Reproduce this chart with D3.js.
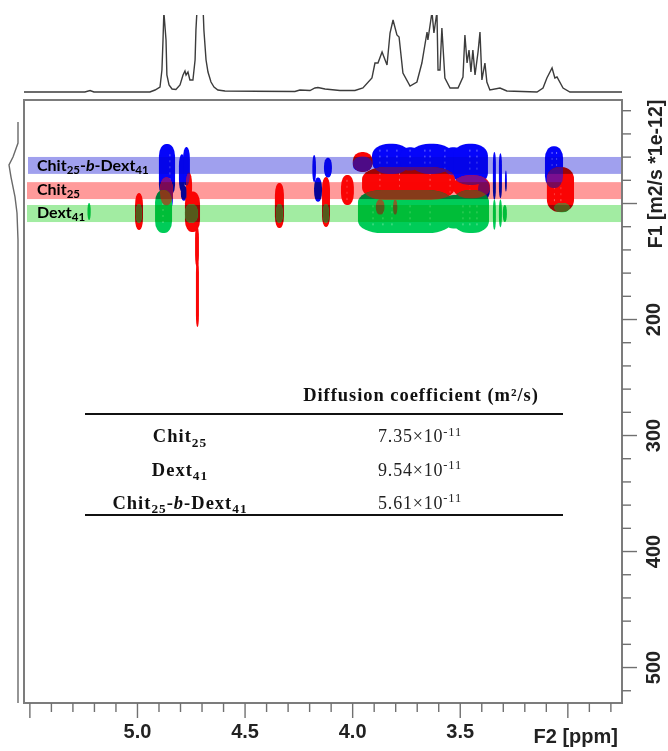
<!DOCTYPE html>
<html><head><meta charset="utf-8">
<script src="https://cdnjs.cloudflare.com/ajax/libs/d3/7.8.5/d3.min.js"></script>
<style>html,body{margin:0;padding:0;background:#fff}svg{display:block;filter:blur(0.35px)}</style>
</head><body><div id="chart"></div>
<script>
// 1D projection on F2 (top)
const topPpm=[5.525,5.242,5.218,5.200,4.940,4.916,4.893,4.884,4.879,4.875,4.865,4.861,4.851,4.837,4.819,4.800,4.786,4.777,4.772,4.763,4.754,4.740,4.730,4.726,4.721,4.717,4.693,4.689,4.679,4.670,4.656,4.642,4.624,4.591,4.266,4.243,4.196,4.173,4.159,4.126,4.080,4.057,3.987,3.950,3.908,3.894,3.880,3.861,3.838,3.824,3.810,3.792,3.782,3.764,3.731,3.699,3.676,3.652,3.648,3.629,3.620,3.606,3.601,3.592,3.583,3.569,3.545,3.508,3.485,3.476,3.466,3.457,3.448,3.439,3.429,3.415,3.406,3.397,3.383,3.374,3.360,3.313,3.281,3.141,3.113,3.095,3.071,3.058,3.048,3.020,2.988,2.746];
const topInt=[0,0,1.5,0,0,2,5,22,52,80,52,17,7,3,2.5,7,17,21,17,20,12,12,32,62,82,85,85,62,32,20,10,5,2,1,.5,2,1.5,4,4.5,3,2,1.5,1.5,4,14,29,29,40,27,59,72,57,55,19,6,10,29,60,52,80,59,80,22,22,64,14,4,4,15,57,29,42,20,42,17,40,60,12,29,10,2,4,1,0,4,14,24,14,15,4,0,0];
// 1D projection on F1 (left)
const leftF1=[30.2,48.3,60.3,67.2,77.6,94.8,108.6,131.9,531];
const leftInt=[0,0,5,9,7,3,1,0,0];
// Contour blobs: [ppm left, ppm right, F1 top, F1 bottom]
const blueBlobs=[[4.898,4.823,49.1,94.8],[4.851,4.833,85,104],[4.805,4.777,58,90],[4.786,4.754,51.7,85],[4.796,4.768,85,98],[4.185,4.168,58.6,82],[4.177,4.14,78,99],[4.131,4.094,61,78],[3.997,3.908,60,73],[3.908,3.731,49,75],[3.78,3.68,52,72],[3.731,3.531,49,75],[3.58,3.48,52,76],[3.531,3.369,49,84.5],[3.415,3.36,80,97],[3.346,3.332,56,97],[3.318,3.304,57,96],[3.29,3.281,72,90],[3.104,3.02,51,87]];
const redBlobs=[[5.009,4.972,91.4,123.3],[4.893,4.833,78,102],[4.772,4.744,74,98],[4.777,4.707,90,125],[4.730,4.712,120,155],[4.726,4.712,150,206.9],[4.359,4.317,82.8,121.6],[4.14,4.103,77.6,120.7],[4.052,3.992,75.9,101.7],[3.997,3.905,56,73],[3.954,3.522,69,97.4],[3.531,3.36,76,96],[3.89,3.85,97,110],[3.81,3.79,97,110],[3.095,2.969,69,107.8]];
const greenBlobs=[[5.23,5.215,100,114.7],[4.916,4.837,88.8,125.9],[5.005,4.977,100.9,117.2],[4.777,4.717,100.9,117.2],[4.354,4.322,100.9,117.2],[4.136,4.108,100.9,117.2],[3.973,3.536,88.8,125.9],[3.58,3.47,93,122],[3.531,3.364,88.8,125.9],[3.346,3.332,97,123],[3.318,3.304,97,121],[3.3,3.281,101.7,116.4],[3.06,2.99,100,108]];
// Light gaps inside contours: [ppm, F1 top, F1 bottom]
const blueGaps=[[4.847,58,85],[3.871,54,72],[3.838,54,72],[3.792,54,72],[3.731,54,72],[3.662,54,72],[3.638,54,72],[3.569,54,72],[3.453,54,72],[3.42,54,72],[3.071,56,78],[3.05,56,78]];
const redGaps=[[4.024,80,98],[3.871,74,92],[3.78,74,92],[3.638,74,92],[3.545,74,92],[3.453,78,92],[3.06,76,100],[3.03,76,100]];
const greenGaps=[[4.879,100,120],[3.903,102,120],[3.857,102,120],[3.815,102,120],[3.731,102,120],[3.638,102,120],[3.485,102,120],[3.453,102,120],[3.42,102,120]];
// Bands behind the species
const bandNames=[["Chit","25","-","b","-Dext","41"],["Chit","25"],["Dext","41"]];
const bandF1=[[60.3,74.9],[82,96.6],[101.7,116.4]];
const bandColors=["#a0a0ee","#ff9a9a","#a2eca2"];
// Axes
const xMajor=[5.5,5.0,4.5,4.0,3.5,3.0];
const xLabels=[5.0,4.5,4.0,3.5];
const xMinor=[5.4,5.3,5.2,5.1,4.9,4.8,4.7,4.6,4.4,4.3,4.2,4.1,3.9,3.8,3.7,3.6,3.4,3.3,3.2,3.1,2.9,2.8];
const yMajor=[100,200,300,400,500];
const yLabels=[200,300,400,500];
const yMinor=[20,40,60,80,120,140,160,180,220,240,260,280,320,340,360,380,420,440,460,480,520];
// Table
const tableHeader="Diffusion coefficient (m²/s)";
const tableRows=[[["Chit","25"],"7.35×10","-11"],[["Dext","41"],"9.54×10","-11"],[["Chit","25","-","b","-Dext","41"],"5.61×10","-11"]];

const W=668,H=751,L=24,R=622,T=100,B=703;
const x=d3.scaleLinear().domain([5.525,2.746]).range([L,R]);
const y=d3.scaleLinear().domain([11.2,531]).range([T,B]);
const yTop=d3.scaleLinear().domain([0,77]).range([92,15]);
const xLeft=d3.scaleLinear().domain([0,9]).range([18,9]);
const svg=d3.select("#chart").append("svg").attr("width",W).attr("height",H);
const defs=svg.append("defs");
defs.append("clipPath").attr("id","topClip").append("rect").attr("x",0).attr("y",15).attr("width",W).attr("height",90);

function blobs(g,data,fill){
  g.selectAll("rect").data(data).join("rect")
   .attr("x",d=>x(d[0])).attr("y",d=>y(d[2]))
   .attr("width",d=>x(d[1])-x(d[0])).attr("height",d=>y(d[3])-y(d[2]))
   .attr("rx",d=>Math.min((x(d[1])-x(d[0]))*.45,24)).attr("ry",d=>Math.min((y(d[3])-y(d[2]))*.45,12))
   .attr("fill",fill);
  return g;
}
function gaps(g,data,col){
  g.selectAll("line").data(data).join("line")
   .attr("x1",d=>x(d[0])).attr("x2",d=>x(d[0])).attr("y1",d=>y(d[1])).attr("y2",d=>y(d[2]))
   .attr("stroke",col).attr("stroke-width",1).attr("stroke-dasharray","2 4").attr("opacity",.55);
}
blobs(defs.append("clipPath").attr("id","clipRed"),redBlobs,"#000");
blobs(defs.append("clipPath").attr("id","clipBlue"),blueBlobs,"#000");

// 1D traces
svg.append("path").datum(d3.range(topPpm.length)).attr("clip-path","url(#topClip)")
  .attr("fill","none").attr("stroke","#3c3c3c").attr("stroke-width",1.4)
  .attr("d",d3.line().x(i=>x(topPpm[i])).y(i=>yTop(topInt[i])));
svg.append("path").datum(d3.range(leftF1.length))
  .attr("fill","none").attr("stroke","#6a6a6a").attr("stroke-width",1.4)
  .attr("d",d3.line().x(i=>xLeft(leftInt[i])).y(i=>y(leftF1[i])));

// contours
blobs(svg.append("g"),blueBlobs,"#0505fa");
gaps(svg.append("g"),blueGaps,"#c8c8ff");
blobs(svg.append("g"),redBlobs,"#fa0505");
gaps(svg.append("g"),redGaps,"#ffb0b0");
blobs(svg.append("g").attr("clip-path","url(#clipBlue)"),redBlobs,"#7a0f90");
blobs(svg.append("g"),greenBlobs,"#00cc58");
gaps(svg.append("g"),greenGaps,"#b8f5cc");
blobs(svg.append("g").attr("clip-path","url(#clipRed)"),greenBlobs,"#86612a");

// bands
svg.append("g").style("mix-blend-mode","multiply").selectAll("rect").data(bandF1).join("rect")
  .attr("x",(d,i)=>i?27:28).attr("width",(d,i)=>R-(i?27:28))
  .attr("y",d=>y(d[0])).attr("height",d=>y(d[1])-y(d[0]))
  .attr("fill",(d,i)=>bandColors[i]);

function rich(t,parts,size,dropK){
  let back=0;
  parts.forEach(p=>{
    const sub=/^\d+$/.test(p), ital=p==="b";
    const drop=sub?size*dropK:0;
    t.append("tspan").text(p)
     .attr("font-size",sub?size*.72:size)
     .attr("font-style",ital?"italic":null)
     .attr("dy",back+drop);
    back=-drop;
  });
}
bandNames.forEach((n,i)=>{
  const t=svg.append("text").attr("x",37).attr("y",y(bandF1[i][1])-(i==0?3:4))
    .attr("font-family","Lato").attr("font-weight",700).attr("fill","#000").attr("font-size",16);
  rich(t,n,16,.2);
});

// frame
const axisCol="#707070";
svg.append("rect").attr("x",L).attr("y",T).attr("width",R-L).attr("height",B-T)
  .attr("fill","none").attr("stroke","#7c7c7c").attr("stroke-width",2);

function styleAxis(g){
  g.select(".domain").remove();
  g.selectAll("line").attr("stroke",axisCol).attr("stroke-width",1.4);
  g.selectAll("text").attr("font-family","Liberation Sans").attr("font-weight",700).attr("font-size",20).attr("fill","#222");
  g.selectAll("text").filter(function(){return !this.textContent}).remove();
}
svg.append("g").attr("transform",`translate(0,${B})`).call(d3.axisBottom(x).tickValues(xMinor).tickSize(9).tickFormat("")).call(styleAxis);
const xa=svg.append("g").attr("transform",`translate(0,${B})`)
  .call(d3.axisBottom(x).tickValues(xMajor).tickSize(15).tickPadding(6)
  .tickFormat(d=>xLabels.includes(d)?d3.format(".1f")(d):"")).call(styleAxis);
svg.append("g").attr("transform",`translate(${R},0)`).call(d3.axisRight(y).tickValues(yMinor).tickSize(9).tickFormat("")).call(styleAxis);
const ya=svg.append("g").attr("transform",`translate(${R},0)`)
  .call(d3.axisRight(y).tickValues(yMajor).tickSize(15).tickFormat(d=>yLabels.includes(d)?d:"")).call(styleAxis);
ya.selectAll("text").attr("transform",`translate(${660-R},0) rotate(-90)`)
  .attr("x",0).attr("y",0).attr("dy",0).attr("text-anchor","middle");

svg.append("text").attr("x",618).attr("y",743).attr("text-anchor","end").text("F2 [ppm]")
  .attr("font-family","Liberation Sans").attr("font-weight",700).attr("font-size",20).attr("fill","#222");
svg.append("text").attr("transform","translate(662,174) rotate(-90)").attr("text-anchor","middle").text("F1 [m2/s *1e-12]")
  .attr("font-family","Liberation Sans").attr("font-weight",700).attr("font-size",19.5).attr("fill","#222");

// table
const serif="Liberation Serif";
svg.append("text").attr("x",421).attr("y",401).attr("text-anchor","middle").text(tableHeader)
  .attr("font-family",serif).attr("font-weight",700).attr("font-size",18.5).attr("letter-spacing",.95).attr("fill","#111");
[414,515].forEach(v=>svg.append("line").attr("x1",85).attr("x2",563).attr("y1",v).attr("y2",v).attr("stroke","#111").attr("stroke-width",2));
const rowY=[442,475.5,508.5];
tableRows.forEach((r,i)=>{
  const t=svg.append("text").attr("x",180).attr("y",rowY[i]).attr("text-anchor","middle")
    .attr("font-family",serif).attr("font-weight",700).attr("fill","#111").attr("font-size",18.5).attr("letter-spacing",1);
  rich(t,r[0],18.5,.26);
  const v=svg.append("text").attr("x",420).attr("y",rowY[i]).attr("text-anchor","middle")
    .attr("font-family",serif).attr("fill","#222").attr("font-size",18).attr("letter-spacing",.8);
  v.append("tspan").text(r[1]);
  v.append("tspan").text(r[2]).attr("font-size",12.5).attr("dy",-6.5);
});
</script></body></html>
